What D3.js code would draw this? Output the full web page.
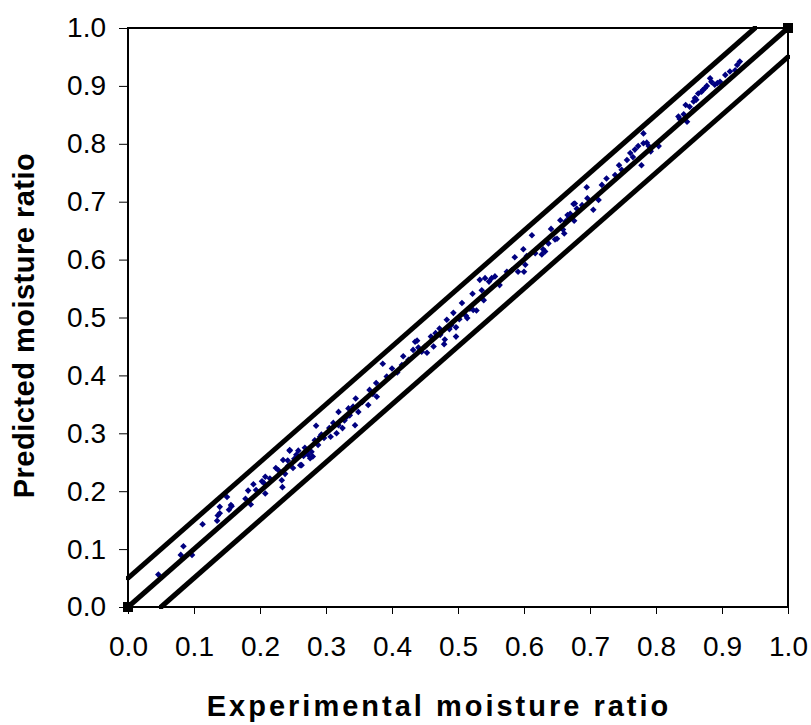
<!DOCTYPE html>
<meta charset="utf-8">
<style>
body { margin: 0; background: #fff; }
svg { font-family: Arial, "Liberation Sans", sans-serif; }
.tick text { font-size: 28px; fill: #000; }
.axis-title { font-size: 29px; font-weight: bold; fill: #000; }
</style>
<svg width="811" height="725"></svg>
<script src="https://d3js.org/d3.v7.min.js"></script>
<script>

// experimental vs predicted moisture ratio
var expMR = [
  0.046,0.080,0.084,0.097,0.113,0.135,0.139,0.139,0.150,0.136,0.153,0.156,0.157,0.178,0.182,0.186,0.190,0.194,0.203,0.208,0.208,0.206,
  0.224,0.233,0.234,0.242,0.242,0.250,0.245,0.261,0.263,0.255,0.273,0.280,0.270,
  0.235,0.245,0.258,0.266,0.276,0.278,0.283,0.285,0.288,0.291,0.293,0.305,0.307,0.316,0.319,0.319,0.325,0.331,0.334,0.336,0.344,0.345,0.349,0.364,0.366,0.376,0.377,
  0.386,0.400,0.415,0.417,0.432,0.435,0.438,0.440,0.450,0.453,0.459,0.463,0.472,0.473,0.479,0.480,0.483,0.487,0.493,0.497,0.497,0.506,0.512,0.514,0.522,0.523,0.528,0.536,0.539,0.533,0.547,
  0.541,0.551,0.556,0.574,0.586,0.591,0.599,0.600,0.602,0.604,0.612,0.629,0.627,0.632,0.641,0.647,0.650,0.655,0.659,0.661,0.663,0.666,0.668,0.670,0.676,0.677,0.680,0.695,0.696,0.705,0.713,0.675,
  0.725,0.738,0.744,0.756,0.761,0.765,0.768,0.773,0.778,0.781,0.781,0.786,0.789,0.804,
  0.834,0.836,0.847,0.845,0.851,0.857,0.859,0.861,0.864,0.869,0.871,0.874,0.877,0.882,0.884,0.897,0.905,0.912,0.920,0.923,0.927,0.857,
  0.215,0.228,0.238,0.252,0.268,0.297,0.311,0.328,0.341,0.355,0.371,0.392,0.408,0.425,0.445,0.466,0.490,0.502,0.518,0.563,0.582,0.617,0.637,0.688,0.718,0.748,0.792,0.842,0.889,0.893
];
var predMR = [
  0.056,0.090,0.105,0.090,0.143,0.149,0.162,0.173,0.190,0.158,0.168,0.176,0.174,0.187,0.201,0.177,0.212,0.202,0.217,0.225,0.196,0.214,
  0.240,0.219,0.207,0.253,0.243,0.240,0.271,0.245,0.245,0.263,0.263,0.260,0.268,
  0.254,0.270,0.270,0.261,0.257,0.268,0.288,0.313,0.280,0.294,0.298,0.309,0.294,0.300,0.314,0.337,0.309,0.328,0.343,0.331,0.314,0.360,0.337,0.349,0.375,0.387,0.363,
  0.420,0.412,0.418,0.433,0.444,0.458,0.460,0.448,0.450,0.439,0.467,0.450,0.481,0.470,0.454,0.462,0.496,0.480,0.508,0.483,0.467,0.525,0.503,0.499,0.541,0.513,0.512,0.547,0.530,0.565,0.562,
  0.568,0.568,0.571,0.579,0.604,0.579,0.618,0.579,0.591,0.606,0.642,0.618,0.609,0.614,0.653,0.635,0.636,0.668,0.652,0.645,0.666,0.677,0.672,0.679,0.667,0.697,0.688,0.725,0.706,0.686,0.703,0.696,
  0.740,0.746,0.763,0.772,0.784,0.777,0.790,0.796,0.763,0.818,0.801,0.802,0.796,0.796,
  0.847,0.843,0.838,0.867,0.864,0.873,0.879,0.876,0.887,0.890,0.893,0.896,0.900,0.913,0.907,0.907,0.919,0.925,0.927,0.936,0.942,0.858,
  0.222,0.236,0.230,0.256,0.275,0.292,0.318,0.322,0.346,0.354,0.368,0.398,0.405,0.427,0.441,0.473,0.487,0.497,0.515,0.556,0.582,0.611,0.628,0.694,0.729,0.755,0.787,0.851,0.902,0.905
];

// 1:1 line and the +/- 0.05 band lines
var lineX = [[0, 1], [0, 0.95], [0.05, 1]];
var lineY = [[0, 1], [0.05, 1], [0, 0.95]];

var ticks = [0, 0.1, 0.2, 0.3, 0.4, 0.5, 0.6, 0.7, 0.8, 0.9, 1.0];

var svg = d3.select("svg"),
    margin = {top: 28, right: 23, bottom: 118, left: 128},
    width = 811 - margin.left - margin.right,
    height = 725 - margin.top - margin.bottom;

var g = svg.append("g").attr("transform", "translate(" + margin.left + "," + margin.top + ")");

var x = d3.scaleLinear().domain([0, 1]).range([0, width]);
var y = d3.scaleLinear().domain([0, 1]).range([height, 0]);

// frame
g.append("rect")
    .attr("width", width).attr("height", height)
    .attr("fill", "none").attr("stroke", "#000").attr("stroke-width", 2);

var xAxis = g.append("g")
    .attr("transform", "translate(0," + height + ")")
    .call(d3.axisBottom(x).tickValues(ticks).tickFormat(d3.format(".1f")).tickSizeInner(7).tickSizeOuter(0).tickPadding(22));
xAxis.select(".domain").remove();

var yAxis = g.append("g")
    .call(d3.axisLeft(y).tickValues(ticks).tickFormat(d3.format(".1f")).tickSizeInner(9).tickSizeOuter(0).tickPadding(13));
yAxis.select(".domain").remove();

// points
var diamond = "M0,-3.3L3.3,0L0,3.3L-3.3,0Z";
g.append("g").selectAll("path")
    .data(expMR.map(function(d, i) { return [d, predMR[i]]; }))
    .enter().append("path")
      .attr("d", diamond)
      .attr("fill", "#000080")
      .attr("transform", function(d) { return "translate(" + x(d[0]) + "," + y(d[1]) + ")"; });

// lines
var line = d3.line().x(function(d) { return x(d[0]); }).y(function(d) { return y(d[1]); });
lineX.forEach(function(xs, i) {
  var pts = [[xs[0], lineY[i][0]], [xs[1], lineY[i][1]]];
  g.append("path")
      .attr("d", line(pts))
      .attr("fill", "none")
      .attr("stroke", "#000")
      .attr("stroke-width", 5);
  var s = i === 0 ? 10 : 4;
  g.selectAll(null).data(pts).enter().append("rect")
      .attr("x", function(d) { return x(d[0]) - s / 2; })
      .attr("y", function(d) { return y(d[1]) - s / 2; })
      .attr("width", s).attr("height", s)
      .attr("fill", "#000");
});

svg.append("text")
    .attr("class", "axis-title")
    .attr("x", 439).attr("y", 716)
    .attr("text-anchor", "middle")
    .style("letter-spacing", "3px")
    .text("Experimental moisture ratio");

svg.append("text")
    .attr("class", "axis-title")
    .attr("transform", "translate(34," + (margin.top + height / 2 + 8) + ") rotate(-90)")
    .attr("text-anchor", "middle")
    .style("letter-spacing", "0.5px")
    .text("Predicted moisture ratio");

</script>
